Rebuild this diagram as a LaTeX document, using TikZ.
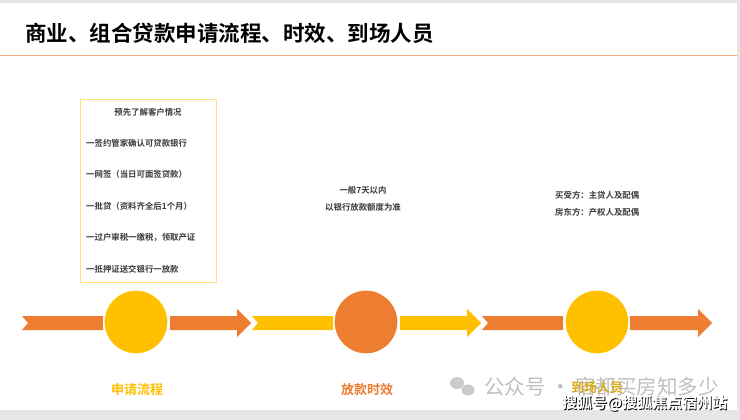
\documentclass[tikz,border=0pt]{standalone}
\usepackage{fontspec}
\newfontfamily\cjk{Noto Sans CJK SC}
\newfontfamily\cjkb{Noto Sans CJK SC Bold}
\usetikzlibrary{calc}
\definecolor{orn}{HTML}{ED7D31}
\definecolor{yel}{HTML}{FFC000}
\definecolor{boxln}{HTML}{FFE07A}
\definecolor{rule}{HTML}{F4B183}
\definecolor{txt}{HTML}{3A3A3A}
\definecolor{frame}{HTML}{E6E6E6}
\begin{document}
\begin{tikzpicture}[x=1pt,y=-1pt,
  small/.style={font=\cjkb\fontsize{8.4}{10}\selectfont, text=txt, inner sep=0pt},
  dot/.style={circle, minimum size=64pt, draw=white, line width=1.2pt, inner sep=0pt},
  lab/.style={font=\cjkb\fontsize{13}{15}\selectfont, inner sep=0pt}]
\useasboundingbox (0,0) rectangle (740,420);
\fill[frame] (0,0) rectangle (740,420);
\fill[white] (0,3) rectangle (737,410);
% title
\node[anchor=west, inner sep=0pt, font=\cjkb\fontsize{21.5}{24}\selectfont] (title) at (25,33) {商业、组合贷款申请流程、时效、到场人员};
\draw[rule, line width=1.5pt] (0,55.5) -- (737,55.5);
% info box
\node[draw=boxln, line width=0.8pt, minimum width=136pt, minimum height=183pt, anchor=north west, inner sep=0pt] (box) at (80,99) {};
\node[small] (b0) at (148,112) {预先了解客户情况};
\node[small, anchor=west] (b1) at (86,143) {一签约管家确认可贷款银行};
\node[small, anchor=west] (b2) at (86,174.5) {一网签（当日可面签贷款）};
\node[small, anchor=west] (b3) at (86,206) {一批贷（资料齐全后1个月）};
\node[small, anchor=west] (b4) at (86,237.5) {一过户审税一缴税，领取产证};
\node[small, anchor=west] (b5) at (86,269) {一抵押证送交银行一放款};
% middle texts
\node[small] (m1) at (363,190) {一般7天以内};
\node[small] (m2) at (363,207) {以银行放款额度为准};
\node[small, anchor=west] (r1) at (555,195) {买受方：主贷人及配偶};
\node[small, anchor=west] (r2) at (555,212) {房东方：产权人及配偶};
% bands
\def\bT{316}\def\bB{330}\def\bM{323}\def\hT{309}\def\hB{337}
\fill[orn] (22,\bT) -- (103,\bT) -- (103,\bB) -- (22,\bB) -- (28,\bM) -- cycle;
\fill[orn] (170,\bT) -- (237,\bT) -- (237,\hT) -- (251,\bM) -- (237,\hB) -- (237,\bB) -- (170,\bB) -- cycle;
\fill[yel] (252,\bT) -- (333,\bT) -- (333,\bB) -- (252,\bB) -- (258,\bM) -- cycle;
\fill[yel] (400,\bT) -- (467,\bT) -- (467,\hT) -- (481,\bM) -- (467,\hB) -- (467,\bB) -- (400,\bB) -- cycle;
\fill[orn] (482,\bT) -- (563,\bT) -- (563,\bB) -- (482,\bB) -- (488,\bM) -- cycle;
\fill[orn] (630,\bT) -- (698,\bT) -- (698,\hT) -- (712,\bM) -- (698,\hB) -- (698,\bB) -- (630,\bB) -- cycle;
% circles
\node[dot, fill=yel] (c1) at (136,322) {};
\node[dot, fill=orn] (c2) at (366,322) {};
\node[dot, fill=yel] (c3) at (597,322) {};
% labels
\node[lab, text=yel] (l1) at (137,390) {申请流程};
\node[lab, text=orn] (l2) at (367,390) {放款时效};
% watermark
\fill[black!25, opacity=0.8] (457,383) ellipse (7pt and 6pt);
\fill[black!25, opacity=0.8] (468,390) ellipse (6.5pt and 5.5pt);
\node[anchor=west, inner sep=0pt, font=\cjk\fontsize{20.5}{23}\selectfont, text=black!25] (wm) at (484,387) {公众号 · 宿都买房知多少};
\node[lab, text=yel!85!black, opacity=0.9] (l3) at (597,388) {到场人员};
\node[anchor=west, inner sep=0pt, font=\cjkb\fontsize{15}{17}\selectfont, text=black] (wm2s) at (562.8,404.3) {搜狐号@搜狐焦点宿州站};
\node[anchor=west, inner sep=0pt, font=\cjkb\fontsize{15}{17}\selectfont, text=white] (wm2) at (562,403.5) {搜狐号@搜狐焦点宿州站};
\end{tikzpicture}
\end{document}
